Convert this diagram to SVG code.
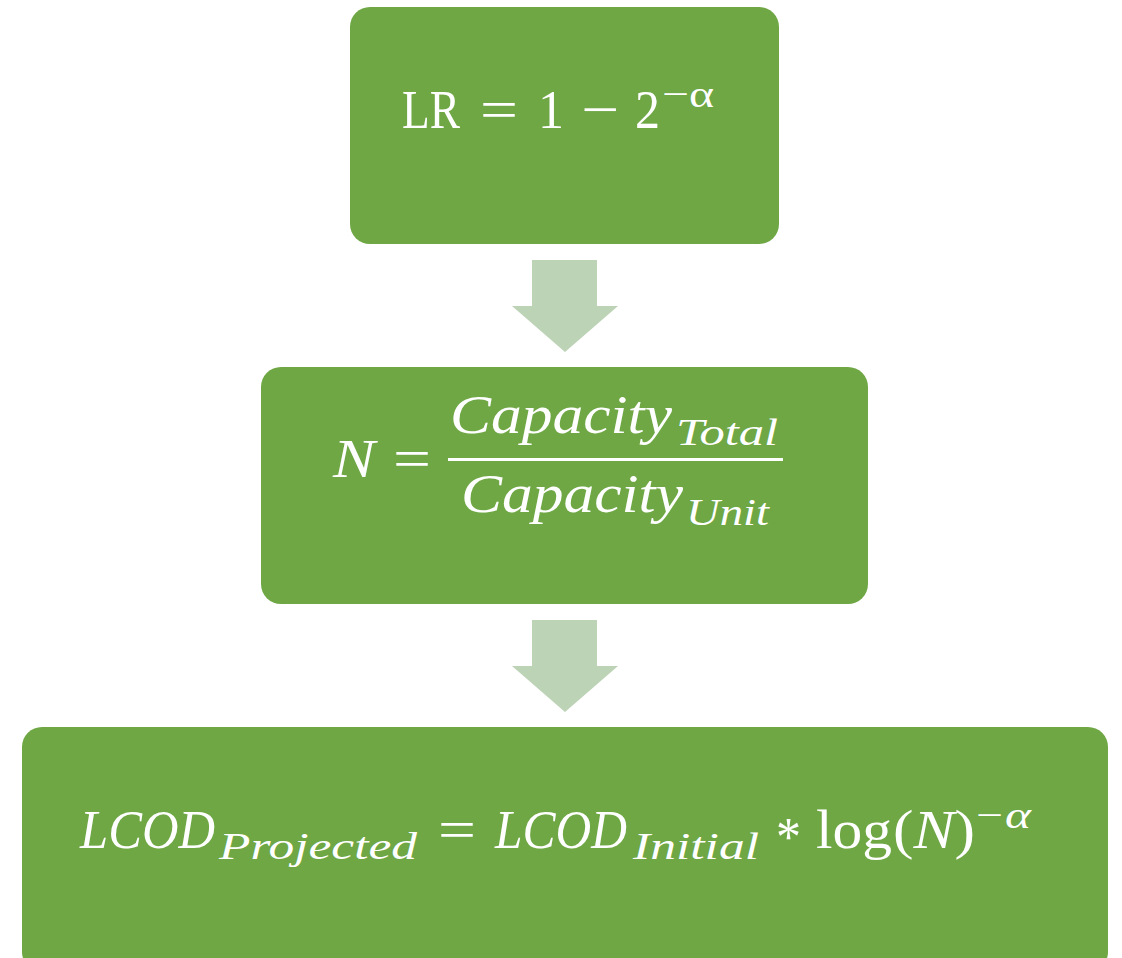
<svg xmlns="http://www.w3.org/2000/svg" width="1122" height="958" viewBox="0 0 1122 958">
<style>
.box{fill:#6EA744;}
.arrow{fill:#BDD3B6;}
.t{fill:#FFFFFF;font-family:"Liberation Serif","DejaVu Serif",serif;}
.i{font-style:italic;}
</style>
<rect width="1122" height="958" fill="#FFFFFF"/>
<g id="connectors">
<polygon class="arrow" points="532,260 597,260 597,306 618,306 565,352 512,306 532,306"/>
<polygon class="arrow" points="532,620 597,620 597,666 618,666 565,712 512,666 532,666"/>
</g>
<g id="node-lr">
<rect class="box" x="350" y="7" width="429" height="237" rx="20"/>
<text class="t" x="402" y="128" font-size="55" textLength="58" lengthAdjust="spacingAndGlyphs">LR</text>
<text class="t" x="480" y="128" font-size="55" textLength="38" lengthAdjust="spacingAndGlyphs">=</text>
<text class="t" x="538" y="128" font-size="55" textLength="26" lengthAdjust="spacingAndGlyphs">1</text>
<text class="t" x="581" y="128" font-size="55" textLength="38" lengthAdjust="spacingAndGlyphs">−</text>
<text class="t" x="635" y="128" font-size="55" textLength="25" lengthAdjust="spacingAndGlyphs">2</text>
<text class="t" x="662" y="107" font-size="38" textLength="52" lengthAdjust="spacingAndGlyphs">−α</text>
</g>
<g id="node-n">
<rect class="box" x="261" y="367" width="607" height="237" rx="20"/>
<text class="t i" x="333" y="477" font-size="55" textLength="42" lengthAdjust="spacingAndGlyphs">N</text>
<text class="t" x="393" y="477" font-size="55" textLength="38" lengthAdjust="spacingAndGlyphs">=</text>
<rect x="448" y="458" width="335" height="3" fill="#FFFFFF"/>
<text class="t i" x="450" y="433" font-size="55" textLength="222" lengthAdjust="spacingAndGlyphs">Capacity</text>
<text class="t i" x="676" y="445" font-size="38" textLength="102" lengthAdjust="spacingAndGlyphs">Total</text>
<text class="t i" x="461" y="512" font-size="55" textLength="222" lengthAdjust="spacingAndGlyphs">Capacity</text>
<text class="t i" x="686" y="525" font-size="38" textLength="83" lengthAdjust="spacingAndGlyphs">Unit</text>
</g>
<g id="node-lcod">
<rect class="box" x="22" y="727" width="1086" height="245" rx="20"/>
<text class="t i" x="80" y="848" font-size="55" textLength="135" lengthAdjust="spacingAndGlyphs">LCOD</text>
<text class="t i" x="219" y="859" font-size="38" textLength="198" lengthAdjust="spacingAndGlyphs">Projected</text>
<text class="t" x="438" y="848" font-size="55" textLength="38" lengthAdjust="spacingAndGlyphs">=</text>
<text class="t i" x="495" y="848" font-size="55" textLength="132" lengthAdjust="spacingAndGlyphs">LCOD</text>
<text class="t i" x="633" y="859" font-size="38" textLength="126" lengthAdjust="spacingAndGlyphs">Initial</text>
<text class="t" x="776" y="855" font-size="55" textLength="25" lengthAdjust="spacingAndGlyphs">*</text>
<text class="t" x="816" y="848" font-size="55" textLength="76" lengthAdjust="spacingAndGlyphs">log</text>
<text class="t" x="893" y="848" font-size="55" textLength="82" lengthAdjust="spacingAndGlyphs">(<tspan class="i">N</tspan>)</text>
<text class="t" x="976" y="828" font-size="38" textLength="27" lengthAdjust="spacingAndGlyphs">−</text>
<text class="t i" x="1005" y="828" font-size="38" textLength="26" lengthAdjust="spacingAndGlyphs">α</text>
</g>
</svg>
